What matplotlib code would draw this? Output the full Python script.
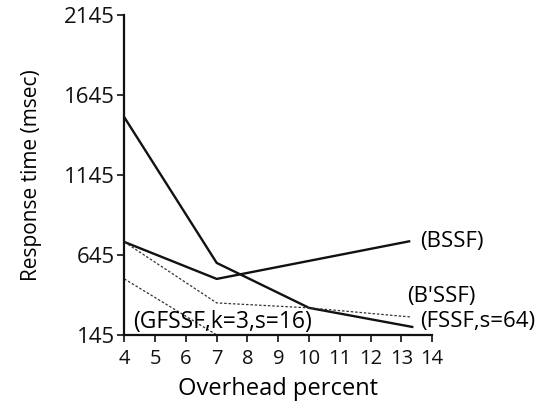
import matplotlib
matplotlib.use("Agg")
import matplotlib.pyplot as plt
from matplotlib import rcParams

rcParams['font.family'] = 'Open Sans'

# data
fssf_x = [4, 7, 10, 13.35]
fssf_y = [1505, 595, 314, 195]
bssf_x = [4, 7, 13.25]
bssf_y = [726, 495, 730]
bpssf_x = [4, 7, 10, 13.3]
bpssf_y = [726, 345, 314, 257]
gfssf_x = [4, 7]
gfssf_y = [495, 145]

y_ticks = [145, 645, 1145, 1645, 2145]
x_ticks = list(range(4, 15))

fig = plt.figure(figsize=(5.43, 4.04), dpi=100)
ax = fig.add_axes([0.229, 0.171, 0.567, 0.792])

ax.plot(fssf_x, fssf_y, color='#111111', lw=1.7, clip_on=False)
ax.plot(bssf_x, bssf_y, color='#111111', lw=1.7, clip_on=False)
ax.plot(bpssf_x, bpssf_y, color='#333333', lw=0.9, ls=(0, (2, 1.5)), clip_on=False)
ax.plot(gfssf_x, gfssf_y, color='#333333', lw=0.9, ls=(0, (2, 1.5)), clip_on=False)

ax.set_xlim(4, 14)
ax.set_ylim(145, 2145)
ax.set_xticks(x_ticks)
ax.set_yticks(y_ticks)
ax.tick_params(direction='out', length=5, width=1.2, colors='#111111')
ax.tick_params(axis='y', labelsize=16, pad=2)
ax.tick_params(axis='x', labelsize=14.5, pad=5)

for s in ['top', 'right']:
    ax.spines[s].set_visible(False)
for s in ['left', 'bottom']:
    ax.spines[s].set_linewidth(1.6)
    ax.spines[s].set_color('#111111')

ax.set_xlabel('Overhead percent', fontsize=17, labelpad=6)
ax.set_ylabel('Response time (msec)', fontsize=15, labelpad=16)

ax.text(13.6, 730, '(BSSF)', fontsize=16, va='center', clip_on=False)
ax.text(13.2, 382, "(B'SSF)", fontsize=16, va='center', clip_on=False)
ax.text(13.6, 226, '(FSSF,s=64)', fontsize=16, va='center', clip_on=False)
ax.text(4.3, 225, '(GFSSF,k=3,s=16)', fontsize=16.5, va='center')

fig.savefig('out.png', dpi=100)
